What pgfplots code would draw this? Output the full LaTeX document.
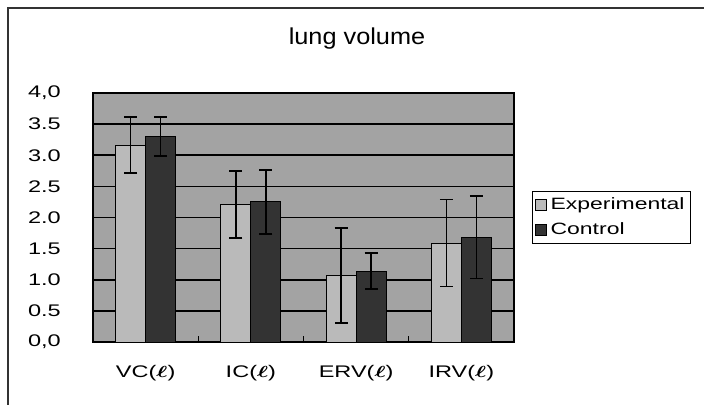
\documentclass[border=0pt]{standalone}
\usepackage{pgfplots}
\pgfplotsset{compat=1.18}
\usepackage{amsmath}
\usepackage{fontspec}
\setmainfont{Liberation Sans}
\definecolor{bgc}{gray}{0.64}
\definecolor{expc}{gray}{0.73}
\definecolor{ctlc}{gray}{0.2}
\newcommand{\lt}{\ensuremath{\boldsymbol{\ell}}}
\begin{document}
\begin{tikzpicture}
\useasboundingbox (0,0) rectangle (352pt,202.5pt);
\draw[line width=0.6pt, black!80] (4pt,-10pt) -- (4pt,198.5pt) -- (360pt,198.5pt);
\node[font=\fontsize{11.5}{13}\selectfont, xscale=1.1] at (178.5pt,183pt) {lung volume};
\begin{axis}[
  at={(46.5pt,31.5pt)}, anchor=south west,
  scale only axis, width=210.5pt, height=124.5pt,
  xmin=-0.5, xmax=3.5, ymin=0, ymax=4,
  ybar=0pt, bar width=15pt,
  axis background/.style={fill=bgc},
  axis line style={black, line width=0.9pt},
  xtick={0,1,2,3},
  xticklabels={VC(\lt), IC(\lt), ERV(\lt), IRV(\lt)},
  xtick pos=lower, ytick pos=left, tick align=inside,
  major x tick style={draw=none},
  minor xtick={0.5,1.5,2.5},
  minor x tick style={black, line width=0.6pt},
  minor tick length=3pt,
  ytick={0,0.5,1,1.5,2,2.5,3,3.5,4},
  yticklabels={0{,}0,0.5,1.0,1.5,2.0,2.5,3.0,3.5,4{,}0},
  major y tick style={draw=none},
  ymajorgrids, grid style={black, line width=0.8pt},
  tick label style={font=\fontsize{8.4}{10}\selectfont, xscale=1.4},
  xticklabel style={yshift=-8pt},
  yticklabel style={xshift=-8pt},
  legend style={at={(1.043,0.5)}, anchor=west, draw=black, line width=0.5pt,
    font=\fontsize{8.2}{10}\selectfont, inner xsep=1pt, inner ysep=1pt,
    row sep=1pt, legend cell align=left},
  legend image code/.code={\draw[#1, draw=black, line width=0.4pt] (0pt,-2.8pt) rectangle (5.6pt,2.8pt);},
  error bars/error bar style={black, line width=0.7pt},
  error bars/error mark options={rotate=90, mark size=3.3pt, line width=0.9pt},
]
\addplot[fill=expc, draw=black, line width=0.5pt,
  error bars/.cd, y dir=both, y explicit]
  coordinates {(0,3.16) +- (0,0.45) (1,2.21) +- (0,0.54) (2,1.07) +- (0,0.76) (3,1.59) +- (0,0.70)};
\addplot[fill=ctlc, draw=black, line width=0.5pt,
  error bars/.cd, y dir=both, y explicit]
  coordinates {(0,3.30) +- (0,0.31) (1,2.25) +- (0,0.51) (2,1.135) +- (0,0.29) (3,1.68) +- (0,0.66)};
\legend{\scalebox{1.4}[1]{Experimental}, \scalebox{1.4}[1]{Control}}
\end{axis}
\end{tikzpicture}
\end{document}
